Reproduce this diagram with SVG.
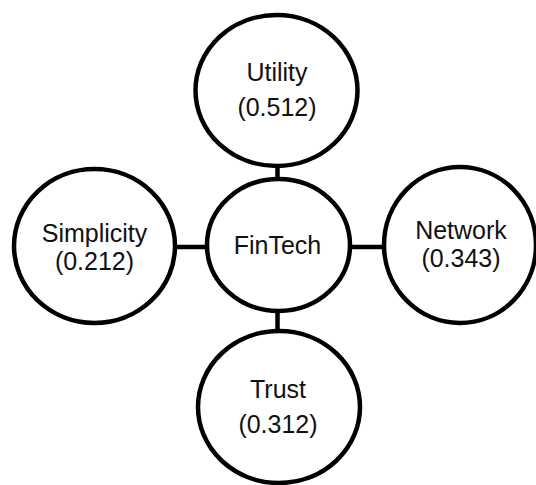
<svg xmlns="http://www.w3.org/2000/svg" width="536" height="485" viewBox="0 0 536 485">
  <style>
    .node { fill: #ffffff; stroke: #000000; stroke-width: 4.5; }
    .link { stroke: #000000; stroke-width: 4.5; fill: none; }
    .label { font-family: "Liberation Sans", Arial, sans-serif; font-size: 25px; fill: #111111; text-anchor: middle; }
  </style>
  <rect width="536" height="485" fill="#ffffff"/>

  <!-- connectors between the hub and the four factors -->
  <g id="connectors">
    <line class="link" x1="277.5" y1="164" x2="277.5" y2="181"/>
    <line class="link" x1="277.5" y1="309" x2="277.5" y2="333"/>
    <line class="link" x1="173" y1="247" x2="209" y2="247"/>
    <line class="link" x1="348" y1="247" x2="386" y2="247"/>
  </g>

  <g id="utility">
    <ellipse class="node" cx="276.5" cy="90.5" rx="81" ry="75.5"/>
    <text class="label" x="277" y="81">Utility</text>
    <text class="label" x="277" y="116">(0.512)</text>
  </g>

  <g id="fintech">
    <ellipse class="node" cx="278.5" cy="245" rx="71.5" ry="66"/>
    <text class="label" x="277.5" y="254">FinTech</text>
  </g>

  <g id="simplicity">
    <ellipse class="node" cx="94.5" cy="246" rx="80.5" ry="77"/>
    <text class="label" x="94.5" y="242">Simplicity</text>
    <text class="label" x="94.5" y="270">(0.212)</text>
  </g>

  <g id="network">
    <ellipse class="node" cx="460" cy="245" rx="76" ry="78"/>
    <text class="label" x="461" y="239">Network</text>
    <text class="label" x="461" y="267">(0.343)</text>
  </g>

  <g id="trust">
    <ellipse class="node" cx="279" cy="407" rx="81" ry="76"/>
    <text class="label" x="278" y="398">Trust</text>
    <text class="label" x="278" y="433">(0.312)</text>
  </g>
</svg>
